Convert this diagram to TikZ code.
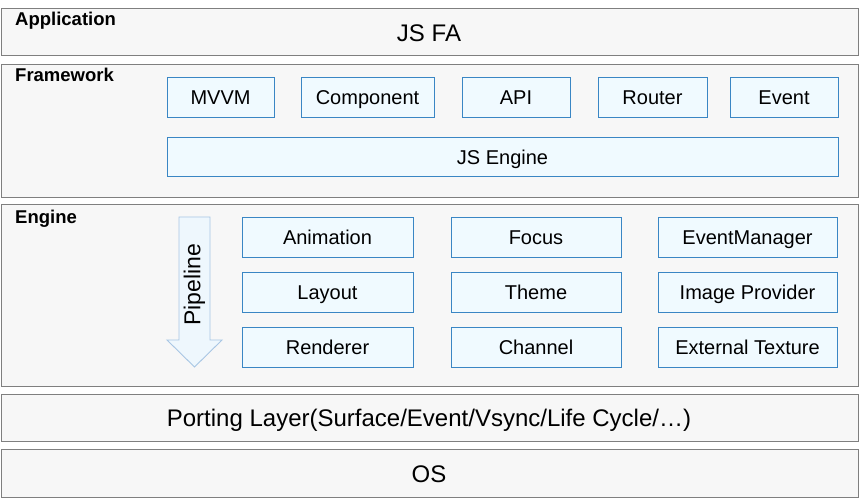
\documentclass[tikz,border=0pt]{standalone}
\usepackage{fontspec}
\setmainfont{Liberation Sans}
\usepackage{tikz}
\definecolor{layerfill}{HTML}{F7F7F7}
\definecolor{layerline}{HTML}{7F7F7F}
\definecolor{modfill}{HTML}{F0FAFF}
\definecolor{modline}{HTML}{3A86C4}
\definecolor{pipefill}{HTML}{EEF7FD}
\definecolor{pipeline}{HTML}{A8C6E4}

\begin{document}
\begin{tikzpicture}[x=1pt,y=-1pt,
    layer/.style={draw=layerline,fill=layerfill,line width=1.2pt,anchor=north west,inner sep=0pt,minimum width=857pt},
    layername/.style={anchor=base west,font=\fontsize{18.5}{20}\selectfont\bfseries,inner sep=0pt},
    layertext/.style={font=\fontsize{24}{26}\selectfont,inner sep=0pt,text height=17pt,text depth=0pt},
    module/.style={draw=modline,fill=modfill,line width=0.9pt,inner sep=0pt,minimum height=40pt,text height=14.5pt,text depth=0pt,font=\fontsize{20}{22}\selectfont}]
    \useasboundingbox (0,0) rectangle (859,502);
    \node[layer,minimum height=47pt] (app) at (0.6,8) {};
    \node[layer,minimum height=133pt] (fw) at (0.6,64) {};
    \node[layer,minimum height=182pt] (eng) at (0.6,204) {};
    \node[layer,minimum height=47pt] (port) at (0.6,394) {};
    \node[layer,minimum height=48pt] (os) at (0.6,449) {};
    \node[layername] (appname) at (15,25.5) {Application};
    \node[layername] (fwname) at (15,82) {Framework};
    \node[layername] (engname) at (15,223.5) {Engine};
    \node[layertext] (jsfa) at (429,33) {JS FA};
    \node[layertext] (porttext) at (429,418) {Porting Layer(Surface/Event/Vsync/Life Cycle/…)};
    \node[layertext] (ostext) at (429,474) {OS};
    \node[module,minimum width=107pt] (mvvm) at (220.5,97.5) {MVVM};
    \node[module,minimum width=133pt] (component) at (367.5,97.5) {Component};
    \node[module,minimum width=108pt] (api) at (516,97.5) {API};
    \node[module,minimum width=109pt] (router) at (652.5,97.5) {Router};
    \node[module,minimum width=108pt] (event) at (784,97.5) {Event};
    \node[module,minimum width=671pt,minimum height=39pt] (jsengine) at (502.5,157) {JS Engine};
    \node[module,minimum width=171pt] (animation) at (327.5,237.5) {Animation};
    \node[module,minimum width=171pt] (layout) at (327.5,292.5) {Layout};
    \node[module,minimum width=171pt] (renderer) at (327.5,347.5) {Renderer};
    \node[module,minimum width=170pt] (focus) at (536,237.5) {Focus};
    \node[module,minimum width=170pt] (theme) at (536,292.5) {Theme};
    \node[module,minimum width=170pt] (channel) at (536,347.5) {Channel};
    \node[module,minimum width=179pt] (eventmanager) at (747.5,237.5) {EventManager};
    \node[module,minimum width=179pt] (imageprovider) at (747.5,292.5) {Image Provider};
    \node[module,minimum width=179pt] (externaltexture) at (747.5,347.5) {External Texture};
    \draw[draw=pipeline,fill=pipefill,line width=0.9pt]
        (179,217) -- (210,217) -- (210,340) -- (222,340) -- (194.5,367)
        -- (167,340) -- (179,340) -- cycle;
    \node[rotate=90,inner sep=0pt,font=\fontsize{23}{25}\selectfont] (pipe) at (194.5,285) {Pipeline};
\end{tikzpicture}
\end{document}
